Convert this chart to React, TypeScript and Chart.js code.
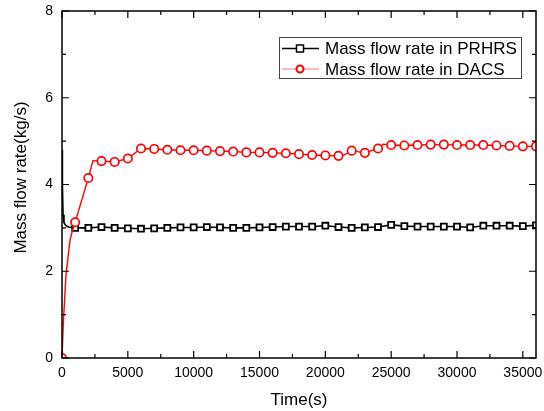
import React, { useEffect, useRef } from "react";
import { Chart, registerables } from "chart.js";

Chart.register(...registerables);

// ---- data ----
const prhrsTime = [0, 30, 80, 150, 300, 500,
  1000, 2000, 3000, 4000, 5000, 6000, 7000, 8000, 9000, 10000,
  11000, 12000, 13000, 14000, 15000, 16000, 17000, 18000, 19000, 20000,
  21000, 22000, 23000, 24000, 25000, 26000, 27000, 28000, 29000, 30000,
  31000, 32000, 33000, 34000, 35000, 36000];
const prhrsFlow = [4.8, 4.0, 3.3, 3.12, 3.05, 3.02,
  3.0, 3.0, 3.02, 3.0, 2.99, 2.98, 2.99, 3.0, 3.01, 3.01,
  3.02, 3.01, 3.0, 3.0, 3.01, 3.02, 3.03, 3.03, 3.03, 3.05,
  3.02, 3.0, 3.01, 3.02, 3.07, 3.04, 3.03, 3.03, 3.03, 3.03,
  3.01, 3.05, 3.05, 3.05, 3.04, 3.06];

const dacsTime = [0, 100, 300, 600, 800,
  1000, 1500, 2000, 2350, 3000, 4000, 5000, 6000, 7000, 8000, 9000, 10000,
  11000, 12000, 13000, 14000, 15000, 16000, 17000, 18000, 19000, 20000,
  21000, 21400, 22000, 23000, 24000, 24400, 25000, 26000, 27000, 28000, 29000, 30000,
  31000, 32000, 33000, 34000, 35000, 36000];
const dacsFlow = [0, 0.8, 1.9, 2.7, 2.95,
  3.13, 3.64, 4.15, 4.55, 4.54, 4.52, 4.6, 4.83, 4.82, 4.8, 4.79, 4.79,
  4.78, 4.77, 4.76, 4.74, 4.74, 4.73, 4.72, 4.7, 4.68, 4.67,
  4.66, 4.68, 4.78, 4.73, 4.83, 4.93, 4.91, 4.9, 4.91, 4.92, 4.92, 4.91,
  4.91, 4.91, 4.9, 4.89, 4.88, 4.88];

const xTickValues = [0, 5000, 10000, 15000, 20000, 25000, 30000, 35000];
const yTickValues = [0, 2, 4, 6, 8];

const seriesLabels = ["Mass flow rate in PRHRS", "Mass flow rate in DACS"];
const xTitle = "Time(s)";
const yTitle = "Mass flow rate(kg/s)";
const markerEvery = 1000;

const FONT = "'Liberation Sans', Arial, sans-serif";

const framePlugin = {
  id: "frame",
  afterDatasetsDraw(chart: any) {
    const ctx = chart.ctx;
    const a = chart.chartArea;
    const xs = chart.scales.x;
    const ys = chart.scales.y;
    ctx.save();
    ctx.strokeStyle = "#000";
    ctx.lineWidth = 1.5;
    ctx.strokeRect(a.left, a.top, a.right - a.left, a.bottom - a.top);
    ctx.lineWidth = 1.2;
    const major = 7;
    const minor = 4;
    const drawX = (v: number, len: number) => {
      const px = xs.getPixelForValue(v);
      ctx.beginPath();
      ctx.moveTo(px, a.bottom);
      ctx.lineTo(px, a.bottom - len);
      ctx.moveTo(px, a.top);
      ctx.lineTo(px, a.top + len);
      ctx.stroke();
    };
    const drawY = (v: number, len: number) => {
      const py = ys.getPixelForValue(v);
      ctx.beginPath();
      ctx.moveTo(a.left, py);
      ctx.lineTo(a.left + len, py);
      ctx.moveTo(a.right, py);
      ctx.lineTo(a.right - len, py);
      ctx.stroke();
    };
    xTickValues.forEach((v, i) => {
      drawX(v, major);
      if (i < xTickValues.length - 1) drawX((v + xTickValues[i + 1]) / 2, minor);
    });
    yTickValues.forEach((v, i) => {
      drawY(v, major);
      if (i < yTickValues.length - 1) drawY((v + yTickValues[i + 1]) / 2, minor);
    });
    ctx.restore();
  },
  afterDraw(chart: any) {
    const ctx = chart.ctx;
    const a = chart.chartArea;
    ctx.save();
    // axis titles
    ctx.fillStyle = "#000";
    ctx.font = `17px ${FONT}`;
    ctx.textAlign = "center";
    ctx.textBaseline = "middle";
    ctx.fillText(xTitle, (a.left + a.right) / 2, 400);
    ctx.save();
    ctx.translate(21, (a.top + a.bottom) / 2 - 7);
    ctx.rotate(-Math.PI / 2);
    ctx.fillText(yTitle, 0, 0);
    ctx.restore();

    // legend
    const bx = 279.5, by = 37.5, bw = 242, bh = 41;
    ctx.fillStyle = "#fff";
    ctx.fillRect(bx, by, bw, bh);
    ctx.strokeStyle = "#444";
    ctx.lineWidth = 1;
    ctx.strokeRect(bx, by, bw, bh);
    const rows = [48.5, 69];
    // row 1
    ctx.strokeStyle = "#000";
    ctx.lineWidth = 1.5;
    ctx.beginPath();
    ctx.moveTo(282, rows[0]);
    ctx.lineTo(319, rows[0]);
    ctx.stroke();
    ctx.fillStyle = "#fff";
    ctx.fillRect(296.5, rows[0] - 3.5, 7, 7);
    ctx.strokeRect(296.5, rows[0] - 3.5, 7, 7);
    // row 2
    ctx.strokeStyle = "#f4a6a6";
    ctx.beginPath();
    ctx.moveTo(282, rows[1]);
    ctx.lineTo(319, rows[1]);
    ctx.stroke();
    ctx.strokeStyle = "#ff0000";
    ctx.lineWidth = 2;
    ctx.beginPath();
    ctx.arc(300, rows[1], 3.5, 0, Math.PI * 2);
    ctx.fillStyle = "#fff";
    ctx.fill();
    ctx.stroke();
    ctx.fillStyle = "#000";
    ctx.font = `17px ${FONT}`;
    ctx.textAlign = "left";
    ctx.textBaseline = "middle";
    ctx.fillText(seriesLabels[0], 325, rows[0] + 1);
    ctx.fillText(seriesLabels[1], 325, rows[1] + 1);
    ctx.restore();
  },
};

const zeroPad = (s: any) => {
  s.paddingTop = 0;
  s.paddingBottom = 0;
  s.paddingLeft = 0;
  s.paddingRight = 0;
};

export default function App() {
  const ref = useRef<HTMLCanvasElement | null>(null);
  useEffect(() => {
    document.body.style.margin = "0";
    if (!ref.current) return;
    const prhrs = prhrsTime.map((t, i) => ({ x: t, y: prhrsFlow[i] }));
    const dacs = dacsTime.map((t, i) => ({ x: t, y: dacsFlow[i] }));
    const chart = new Chart(ref.current, {
      type: "line",
      data: {
        datasets: [
          {
            label: seriesLabels[0],
            data: prhrs,
            order: 2,
            borderColor: "#000",
            borderWidth: 1.6,
            tension: 0,
            pointStyle: "rect",
            pointRadius: (c: any) => {
              const p = c.raw;
              return p && p.x > 0 && p.x % markerEvery === 0 ? 4.2 : 0;
            },
            pointBorderColor: "#000",
            pointBackgroundColor: "#fff",
            pointBorderWidth: 1.8,
          },
          {
            label: seriesLabels[1],
            data: dacs,
            order: 1,
            borderColor: "#ff0000",
            borderWidth: 1.4,
            tension: 0,
            pointStyle: "circle",
            pointRadius: (c: any) => {
              const p = c.raw;
              return p && p.x % markerEvery === 0 ? 4.2 : 0;
            },
            pointBorderColor: "#ff0000",
            pointBackgroundColor: "#fff",
            pointBorderWidth: 1.7,
          },
        ],
      },
      options: {
        animation: false,
        responsive: true,
        maintainAspectRatio: false,
        layout: { padding: { top: 11, right: 8, left: 0, bottom: 0 } },
        plugins: { legend: { display: false }, tooltip: { enabled: false } },
        scales: {
          x: {
            type: "linear",
            min: 0,
            max: 36000,
            grid: { display: false, drawTicks: false },
            border: { display: false },
            afterBuildTicks: (s: any) => {
              s.ticks = xTickValues.map((v) => ({ value: v }));
            },
            ticks: {
              autoSkip: false,
              maxRotation: 0,
              minRotation: 0,
              padding: 7,
              color: "#000",
              font: { family: FONT, size: 14 },
              callback: (v: any) => String(v),
            },
            afterFit: (s: any) => {
              s.height = 53;
              zeroPad(s);
            },
          },
          y: {
            type: "linear",
            min: 0,
            max: 8,
            grid: { display: false, drawTicks: false },
            border: { display: false },
            afterBuildTicks: (s: any) => {
              s.ticks = yTickValues.map((v) => ({ value: v }));
            },
            ticks: {
              padding: 9,
              color: "#000",
              font: { family: FONT, size: 14 },
              callback: (v: any) => String(v),
            },
            afterFit: (s: any) => {
              s.width = 62;
              zeroPad(s);
            },
          },
        },
      },
      plugins: [framePlugin],
    });
    return () => chart.destroy();
  }, []);
  return (
    <div style={{ width: 544, height: 411, position: "relative" }}>
      <canvas ref={ref} />
    </div>
  );
}
